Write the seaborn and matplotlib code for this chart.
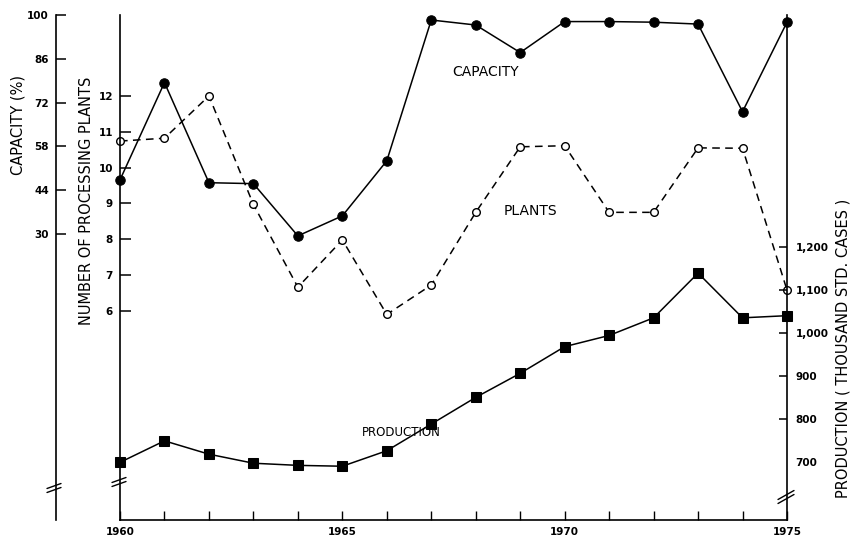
import matplotlib
matplotlib.use("Agg")
import matplotlib.pyplot as plt
import pandas as pd
import seaborn as sns

# ---- data ----
years = list(range(1960, 1976))
capacity = [47.3, 78.4, 46.4, 46.1, 29.4, 35.8, 53.4, 98.4, 96.8, 88.0,
            97.9, 97.9, 97.7, 97.1, 69.1, 97.7]
plants = [10.74, 10.82, 12.0, 8.97, 6.66, 7.98, 5.90, 6.72, 8.75, 10.58,
          10.61, 8.75, 8.75, 10.55, 10.54, 6.58]
production = [700, 750, 719, 698, 693, 691, 727, 789, 851, 907,
              969, 995, 1036, 1140, 1036, 1041]

capacity_ticks = [30, 44, 58, 72, 86, 100]
plants_ticks = [6, 7, 8, 9, 10, 11, 12]
production_ticks = [700, 800, 900, 1000, 1100, 1200]
production_tick_labels = ["700", "800", "900", "1,000", "1,100", "1,200"]
year_ticks = [1960, 1965, 1970, 1975]

df = pd.DataFrame({"year": years, "capacity": capacity,
                   "plants": plants, "production": production})

sns.set_theme(style="white")
plt.rcParams['font.family'] = ['DejaVu Sans']
plt.rcParams['text.color'] = 'black'
plt.rcParams['axes.labelcolor'] = 'black'
plt.rcParams['xtick.color'] = 'black'
plt.rcParams['ytick.color'] = 'black'
plt.rcParams['xtick.labelcolor'] = 'black'
plt.rcParams['ytick.labelcolor'] = 'black'

W, H = 853, 539
fig = plt.figure(figsize=(W / 100, H / 100), dpi=100)
L, R, T, B = 120, 787, 15, 520
ax = fig.add_axes([L / W, 1 - B / H, (R - L) / W, (B - T) / H])
ax_cap = ax.twinx()
ax_prod = ax.twinx()
for a in (ax, ax_cap, ax_prod):
    a.set_facecolor("none")
ax.set_facecolor("white")

lw = 1.1
# plants (dashed, open circles)
sns.lineplot(data=df, x="year", y="plants", ax=ax, color="black",
             linestyle=(0, (5, 3.5)), linewidth=lw, marker="o", markersize=5.5,
             markerfacecolor="white", markeredgecolor="black",
             markeredgewidth=1.0, clip_on=False)
# capacity (solid, filled circles)
sns.lineplot(data=df, x="year", y="capacity", ax=ax_cap, color="black",
             linewidth=lw, marker="o", markersize=6.8,
             markerfacecolor="black", markeredgecolor="black", clip_on=False)
# production (solid, filled squares)
sns.lineplot(data=df, x="year", y="production", ax=ax_prod, color="black",
             linewidth=lw, marker="s", markersize=7,
             markerfacecolor="black", markeredgecolor="black", clip_on=False)

ax.set_xlim(1960, 1975)
ax.set_ylim(0.16, 14.26)
ax_cap.set_ylim(-61.4, 100)
ax_prod.set_ylim(566, 1740)

tick_font = dict(fontsize=7.5, fontweight="bold", color="black")
spine_lw = 1.2

# x axis
ax.set_xticks(year_ticks)
ax.set_xticklabels([str(y) for y in year_ticks], **tick_font)
ax.set_xticks(years, minor=True)
ax.tick_params(axis="x", which="both", direction="in", length=6.5,
               width=1.0, color="black", pad=5, bottom=True)
ax.set_xlabel("")

# plants axis
ax.set_yticks(plants_ticks)
ax.set_yticklabels([str(v) for v in plants_ticks], **tick_font)
ax.tick_params(axis="y", direction="in", length=8, width=1.1,
               color="black", pad=5, left=True)
for s in ("top", "right"):
    ax.spines[s].set_visible(False)
for s in ("left", "bottom"):
    ax.spines[s].set_color("black")
    ax.spines[s].set_linewidth(spine_lw)
ax.set_ylabel("NUMBER OF PROCESSING PLANTS", fontsize=10.5, color="black")
ax.yaxis.label.set_va("center")
ax.yaxis.set_label_coords(-0.0505, 0.632)

# capacity axis
ax_cap.yaxis.set_ticks_position("left")
ax_cap.yaxis.set_label_position("left")
ax_cap.spines["left"].set_position(("axes", -64 / 667))
ax_cap.spines["left"].set_visible(True)
ax_cap.spines["left"].set_color("black")
ax_cap.spines["left"].set_linewidth(spine_lw)
for s in ("top", "right", "bottom"):
    ax_cap.spines[s].set_visible(False)
ax_cap.set_yticks(capacity_ticks)
ax_cap.set_yticklabels([str(v) for v in capacity_ticks], **tick_font)
ax_cap.tick_params(axis="y", direction="in", length=7, width=1.1,
                   color="black", pad=5, left=True, right=False)
ax_cap.set_ylabel("CAPACITY (%)", fontsize=10.5, color="black")
ax_cap.yaxis.label.set_va("center")
ax_cap.yaxis.set_label_coords(-0.1534, 0.783)

# production axis
for s in ("top", "left", "bottom"):
    ax_prod.spines[s].set_visible(False)
ax_prod.spines["right"].set_color("black")
ax_prod.spines["right"].set_linewidth(spine_lw)
ax_prod.set_yticks(production_ticks)
ax_prod.set_yticklabels(production_tick_labels, **tick_font)
ax_prod.tick_params(axis="y", direction="in", length=5.5, width=1.1,
                    color="black", pad=6, right=True)
ax_prod.yaxis.get_major_ticks()[0].tick2line.set_visible(False)
ax_prod.set_ylabel("PRODUCTION ( THOUSAND STD. CASES )", fontsize=10.5,
                   rotation=90, color="black")
ax_prod.yaxis.label.set_va("center")
ax_prod.yaxis.set_label_coords(1.084, 0.34)

# series labels inside the plot
ax_cap.text(1968.21, 81.8, "CAPACITY", fontsize=10, ha="center", va="center",
            color="black")
ax.text(1969.24, 8.80, "PLANTS", fontsize=10, ha="center", va="center",
        color="black")
ax_prod.text(1966.33, 769, "PRODUCTION", fontsize=8.5, ha="center",
             va="center", color="black")

# axis-break marks (decoration)
aw, ah = R - L, B - T
def brk(xpx, ypx, dx, dy, sep):
    for off in (-sep / 2, sep / 2):
        xs = [(xpx - dx / 2 - L) / aw, (xpx + dx / 2 - L) / aw]
        ys = [(B - (ypx + off + dy / 2)) / ah, (B - (ypx + off - dy / 2)) / ah]
        ax.plot(xs, ys, transform=ax.transAxes, color="black", lw=1.0,
                clip_on=False)

brk(54, 488, 14, 5, 4)
brk(119, 482, 14, 5, 4)
brk(786, 497, 16, 9, 4)

fig.savefig("out.png", dpi=100, facecolor="white")
